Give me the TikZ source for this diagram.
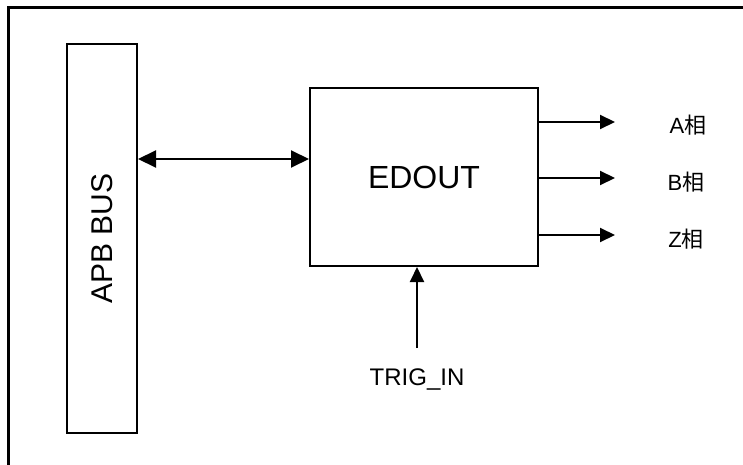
\documentclass[tikz,border=0pt]{standalone}
\usepackage{fontspec}
\setmainfont{Liberation Sans}
\newfontfamily\cjk{Noto Sans CJK SC}
\usepackage{tikz}
\usetikzlibrary{arrows.meta,positioning}

\begin{document}
\begin{tikzpicture}[
    x=1pt, y=-1pt,
    block/.style={rectangle, draw, line width=2pt, inner sep=0pt},
    arr/.style={-{Triangle[length=15pt,width=14pt]}, line width=2pt},
    darr/.style={{Triangle[length=18pt,width=17pt]}-{Triangle[length=18pt,width=17pt]}, line width=2pt},
    lbl/.style={font=\fontsize{22}{26}\selectfont, inner sep=0pt},
]
    \useasboundingbox (0,0) rectangle (743,465);
    % frame
    \draw[line width=3pt] (8.5,465) -- (8.5,7.5) -- (743,7.5);

    \node[block, minimum width=70pt, minimum height=389pt] (apb) at (102,238.5)
        {\rotatebox{90}{\fontsize{30}{36}\selectfont APB BUS}};
    \node[block, minimum width=228pt, minimum height=178pt] (edout) at (424,177)
        {\fontsize{32}{38}\selectfont EDOUT};

    \coordinate (bus) at (137,159);
    \draw[darr] (apb.east |- bus) -- (edout.west |- bus);

    \coordinate (oa) at (615,122);
    \coordinate (ob) at (615,178);
    \coordinate (oz) at (615,235);
    \draw[arr] (edout.east |- oa) -- (oa);
    \draw[arr] (edout.east |- ob) -- (ob);
    \draw[arr] (edout.east |- oz) -- (oz);
    \node[lbl] (la) at (688,125) {A{\cjk 相}};
    \node[lbl] (lb) at (686,182) {B{\cjk 相}};
    \node[lbl] (lz) at (686,239) {Z{\cjk 相}};

    \coordinate (tin) at (417,348);
    \draw[arr] (tin) -- (tin |- edout.south);
    \node[below=21pt of tin, font=\fontsize{24}{28}\selectfont, inner sep=0pt] (trig) {TRIG\_IN};
\end{tikzpicture}
\end{document}
